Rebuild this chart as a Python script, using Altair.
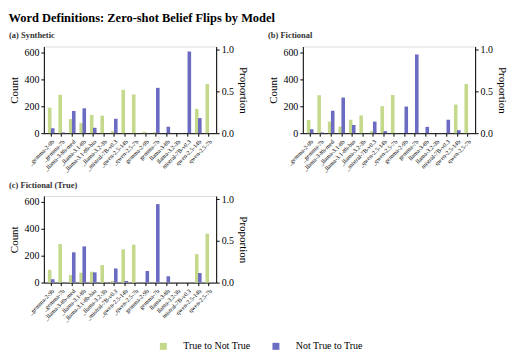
import altair as alt
import pandas as pd

models = ["_gemma-2-9b", "_gemma-7b", "_llama-3-8b-med", "_llama-3.1-8b", "_llama-3.1-8b-bio",
          "_llama-3.2-3b", "_mistral-7B-v0.3", "_qwen-2.5-14b", "_qwen-2.5-7b", "gemma-2-9b",
          "gemma-7b", "llama-3-8b", "llama-3.2-3b", "mistral-7B-v0.3", "qwen-2.5-14b", "qwen-2.5-7b"]
directions = ["True to Not True", "Not True to True"]
colors = ["#c4d98c", "#6b6bc2"]

syn_t2n = [190, 285, 105, 75, 135, 130, 15, 322, 288, 10, 7, 0, 0, 0, 180, 366]
syn_n2t = [37, 5, 165, 185, 40, 0, 107, 0, 0, 0, 337, 48, 0, 607, 112, 0]
fic_t2n = [98, 282, 86, 49, 100, 132, 15, 201, 284, 0, 0, 0, 0, 0, 213, 365]
fic_n2t = [29, 5, 167, 265, 61, 0, 86, 15, 0, 198, 585, 47, 0, 100, 22, 0]
fict_t2n = [95, 286, 56, 73, 81, 130, 12, 247, 282, 0, 0, 0, 0, 0, 211, 363]
fict_n2t = [24, 2, 225, 269, 76, 0, 105, 12, 0, 86, 583, 47, 0, 0, 71, 0]

panels = [("(a) Synthetic", syn_t2n, syn_n2t),
          ("(b) Fictional", fic_t2n, fic_n2t),
          ("(c) Fictional (True)", fict_t2n, fict_n2t)]

FONT = "Liberation Serif"
W, H = 173, 87


def panel(title, t2n, n2t, show_legend=False):
    rows = []
    for m, a, b in zip(models, t2n, n2t):
        rows.append({"model": m, "direction": directions[0], "count": a})
        rows.append({"model": m, "direction": directions[1], "count": b})
    df = pd.DataFrame(rows)
    legend = None
    if show_legend:
        legend = alt.Legend(orient="none", legendX=115, legendY=296, direction="horizontal",
                            title=None, symbolType="square", symbolSize=49,
                            symbolStrokeWidth=0, labelFont=FONT, labelFontSize=10,
                            columnPadding=20, labelOffset=15, labelColor="black")
    bars = alt.Chart(df).mark_bar(size=3.6).encode(
        x=alt.X("model:N", sort=models,
                scale=alt.Scale(paddingInner=0.3, paddingOuter=0.35),
                axis=alt.Axis(title=None, labelAngle=315, labelFontSize=6, labelFont=FONT,
                              labelPadding=2, tickSize=3, domainColor="black",
                              tickColor="black", labelColor="black")),
        xOffset=alt.XOffset("direction:N", sort=directions, scale=alt.Scale(paddingInner=0, paddingOuter=0.2)),
        y=alt.Y("count:Q", scale=alt.Scale(domain=[0, 644], nice=False),
                axis=alt.Axis(title="Count", values=[0, 200, 400, 600], grid=False,
                              titleFont=FONT, titleFontSize=11, titleFontWeight="normal",
                              labelFont=FONT, labelFontSize=10, domainColor="black",
                              tickColor="black", labelColor="black", titleColor="black",
                              tickSize=3, titlePadding=4)),
        color=alt.Color("direction:N", sort=directions,
                        scale=alt.Scale(domain=directions, range=colors),
                        legend=legend),
    )
    prop = alt.Chart(pd.DataFrame({"p": [0.0, 1.0]})).mark_point(opacity=0).encode(
        y=alt.Y("p:Q", scale=alt.Scale(domain=[0, 1.04], nice=False),
                axis=alt.Axis(orient="right", title="Proportion", values=[0, 0.5, 1.0], format=".1f",
                              grid=False, titleFont=FONT, titleFontSize=11,
                              titleFontWeight="normal", labelFont=FONT, labelFontSize=10,
                              domainColor="black", tickColor="black", labelColor="black",
                              titleColor="black", tickSize=3, titlePadding=4)),
    )
    return alt.layer(bars, prop).resolve_scale(y="independent").properties(
        width=W, height=H,
        title=alt.TitleParams(title, anchor="start", frame="bounds", font=FONT, fontSize=8.5,
                              fontWeight="bold", color="#333333", offset=5),
    )


pa = panel(*panels[0], show_legend=True)
pb = panel(*panels[1])
pc = panel(*panels[2])

chart = alt.vconcat(
    alt.hconcat(pa, pb, spacing=18),
    alt.hconcat(pc, spacing=18),
    spacing=6,
).properties(
    title=alt.TitleParams("Word Definitions: Zero-shot Belief Flips by Model", anchor="start",
                          frame="bounds", font=FONT, fontSize=12.5, fontWeight="bold",
                          color="black", offset=6),
    padding={"left": 0, "top": 3, "right": 0, "bottom": 0},
).configure_view(stroke=None).configure_legend(
    labelFont=FONT, labelFontSize=10, labelColor="black"
).configure(font=FONT)

chart.save("out.html", embed_options={"renderer": "svg", "actions": False})
